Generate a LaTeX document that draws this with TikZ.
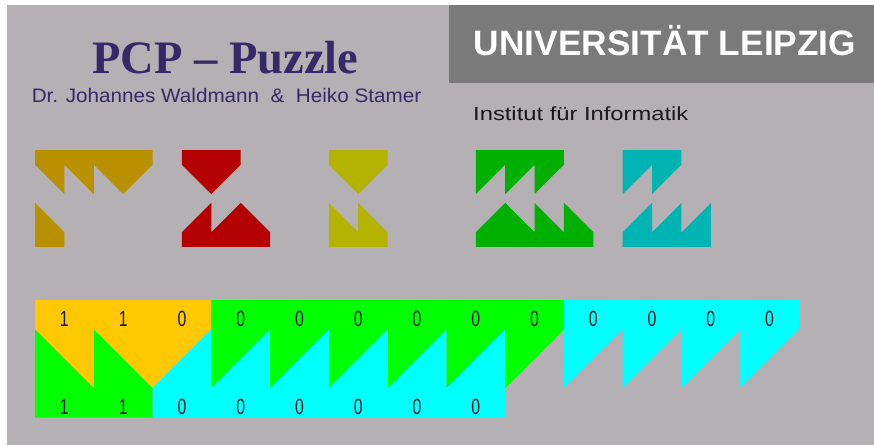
\documentclass[tikz,border=0pt]{standalone}
\usepackage{fontspec}
\usepackage{graphicx}
\setmainfont{Liberation Serif}
\setsansfont{Liberation Sans}
\definecolor{bg}{RGB}{180,176,180}
\definecolor{hdr}{RGB}{122,122,122}
\definecolor{titlecol}{RGB}{52,42,104}
\definecolor{pgold}{RGB}{184,144,0}
\definecolor{pred}{RGB}{180,0,0}
\definecolor{polive}{RGB}{180,180,0}
\definecolor{pgreen}{RGB}{0,176,0}
\definecolor{pteal}{RGB}{0,180,180}
\definecolor{sgold}{RGB}{255,200,0}
\definecolor{sgreen}{RGB}{0,255,0}
\definecolor{scyan}{RGB}{0,255,255}
\definecolor{digitcol}{RGB}{20,30,30}
\tikzset{
  digit/.style={font=\sffamily\fontsize{22}{22}\selectfont, text=digitcol, inner sep=0pt},
  piecescope/.style={x=29.385pt, y=-29.385pt},
}
\begin{document}
\begin{tikzpicture}[x=1pt,y=-1pt]
\useasboundingbox (0,0) rectangle (874,445);
\fill[white] (0,0) rectangle (874,445);
\fill[bg] (7,5) rectangle (874,445);
\fill[hdr] (449,5) rectangle (874,83);

% texts
\node[anchor=base, text=titlecol, font=\rmfamily\bfseries\fontsize{46.5}{46.5}\selectfont, inner sep=0pt] (title) at (225.5,73) {PCP -- Puzzle};
\node[anchor=base, text=titlecol, font=\sffamily\fontsize{19.5}{19.5}\selectfont, inner sep=0pt] (authors) at (226.5,102) {\scalebox{1.06}[1]{Dr. Johannes Waldmann\ \ \&\ \ Heiko Stamer}};
\node[anchor=base, text=white, font=\sffamily\bfseries\fontsize{35.3}{35.3}\selectfont, inner sep=0pt] (uni) at (665,55) {UNIVERSITÄT LEIPZIG};
\node[anchor=base west, text=black!90, font=\sffamily\fontsize{19}{19}\selectfont, inner sep=0pt] (inst) at (473,120) {\scalebox{1.25}[1]{Institut für Informatik}};

% piece 1 gold: 1110 / 1
\begin{scope}[shift={(35,150)}, piecescope]
\fill[pgold] (0,0)--(4,0)--(4,0.5)--(3,1.5)--(2,0.5)--(2,1.5)--(1,0.5)--(1,1.5)--(0,0.5)--cycle;
\fill[pgold] (0,1.8)--(1,2.8)--(1,3.3)--(0,3.3)--cycle;
\end{scope}
% piece 2 red: 10 / 001
\begin{scope}[shift={(181.9,150)}, piecescope]
\fill[pred] (0,0)--(2,0)--(2,0.5)--(1,1.5)--(0,0.5)--cycle;
\fill[pred] (0,2.8)--(1,1.8)--(1,2.8)--(2,1.8)--(3,2.8)--(3,3.3)--(0,3.3)--cycle;
\end{scope}
% piece 3 olive: 10 / 11
\begin{scope}[shift={(328.8,150)}, piecescope]
\fill[polive] (0,0)--(2,0)--(2,0.5)--(1,1.5)--(0,0.5)--cycle;
\fill[polive] (0,1.8)--(1,2.8)--(1,1.8)--(2,2.8)--(2,3.3)--(0,3.3)--cycle;
\end{scope}
% piece 4 green: 000 / 0111
\begin{scope}[shift={(475.8,150)}, piecescope]
\fill[pgreen] (0,0)--(3,0)--(3,0.5)--(2,1.5)--(2,0.5)--(1,1.5)--(1,0.5)--(0,1.5)--cycle;
\fill[pgreen] (0,2.8)--(1,1.8)--(2,2.8)--(2,1.8)--(3,2.8)--(3,1.8)--(4,2.8)--(4,3.3)--(0,3.3)--cycle;
\end{scope}
% piece 5 teal: 00 / 000
\begin{scope}[shift={(622.7,150)}, piecescope]
\fill[pteal] (0,0)--(2,0)--(2,0.5)--(1,1.5)--(1,0.5)--(0,1.5)--cycle;
\fill[pteal] (0,2.8)--(1,1.8)--(1,2.8)--(2,1.8)--(2,2.8)--(3,1.8)--(3,3.3)--(0,3.3)--cycle;
\end{scope}

% solution strip
\begin{scope}[shift={(35,300)}, x=58.77pt, y=-58.77pt]
\fill[sgold] (0,0)--(3,0)--(3,0.5)--(2,1.5)--(1,0.5)--(1,1.5)--(0,0.5)--cycle;
\fill[sgreen] (3,0)--(9,0)--(9,0.5)--(8,1.5)--(8,0.5)--(7,1.5)--(7,0.5)--(6,1.5)--(6,0.5)--(5,1.5)--(5,0.5)--(4,1.5)--(4,0.5)--(3,1.5)--cycle;
\fill[scyan] (9,0)--(13,0)--(13,0.5)--(12,1.5)--(12,0.5)--(11,1.5)--(11,0.5)--(10,1.5)--(10,0.5)--(9,1.5)--cycle;
\fill[sgreen] (0,0.5)--(1,1.5)--(1,0.5)--(2,1.5)--(2,2)--(0,2)--cycle;
\fill[scyan] (2,2)--(2,1.5)--(3,0.5)--(3,1.5)--(4,0.5)--(4,1.5)--(5,0.5)--(5,1.5)--(6,0.5)--(6,1.5)--(7,0.5)--(7,1.5)--(8,0.5)--(8,2)--cycle;
\foreach \d [count=\i from 0] in {1,1,0,0,0,0,0,0,0,0,0,0,0}
  \node[digit] (top\i) at (\i+0.5,0.32) {\scalebox{0.72}[1]{\d}};
\foreach \d [count=\i from 0] in {1,1,0,0,0,0,0,0}
  \node[digit] (bot\i) at (\i+0.5,1.82) {\scalebox{0.72}[1]{\d}};
\end{scope}
\end{tikzpicture}
\end{document}
